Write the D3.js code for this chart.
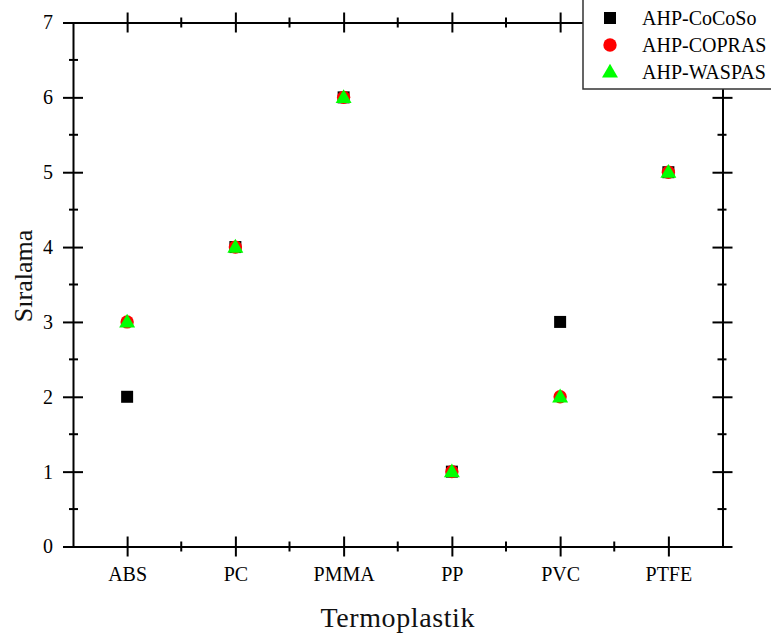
<!DOCTYPE html>
<html>
<head>
  <meta charset="utf-8">
  <style>
    body { margin: 0; background: #fff; }
    svg text { font-family: 'Liberation Serif', serif; }
  </style>
  <script src="https://cdn.jsdelivr.net/npm/d3@7/dist/d3.min.js"></script>
</head>
<body>
  <svg id="chart" width="771" height="637"></svg>

  <script>
    var categories = ['ABS', 'PC', 'PMMA', 'PP', 'PVC', 'PTFE'];
    var cocoso = [2, 4, 6, 1, 3, 5];
    var copras = [3, 4, 6, 1, 2, 5];
    var waspas = [3, 4, 6, 1, 2, 5];
    var yTicks = [0, 1, 2, 3, 4, 5, 6, 7];

    var svg = d3.select('#chart'),
      margin = { top: 22.5, right: 48.5, bottom: 90.5, left: 73 },
      width = +svg.attr('width') - margin.left - margin.right,
      height = +svg.attr('height') - margin.top - margin.bottom,
      g = svg.append('g').attr('transform', 'translate(' + margin.left + ',' + margin.top + ')');

    var x = d3.scalePoint()
      .domain(categories)
      .range([0, width])
      .padding(0.5);

    var y = d3.scaleLinear()
      .domain([0, 7])
      .range([height, 0]);

    var step = x.step();
    var xMinor = categories.slice(0, -1).map(c => x(c) + step / 2);
    var yMinor = d3.range(0.5, 7, 1);

    // crossing ticks helper
    function cross(sel, attr, a, b) {
      sel.selectAll('.tick line').attr(attr + '1', a).attr(attr + '2', b);
    }

    function styleAxis(ax) {
      ax.select('.domain').attr('stroke-width', 2);
      ax.selectAll('.tick line').attr('stroke-width', 2);
      ax.selectAll('text').attr('font-size', 20).attr('fill', '#000');
    }

    // bottom
    var xb = g.append('g')
      .attr('transform', 'translate(0,' + height + ')')
      .call(d3.axisBottom(x).tickSize(0).tickSizeOuter(0).tickPadding(20));
    cross(xb, 'y', -10, 10);
    styleAxis(xb);
    xb.selectAll('.minor').data(xMinor).enter().append('line')
      .attr('x1', d => d).attr('x2', d => d).attr('y1', -5).attr('y2', 5)
      .attr('stroke', '#000').attr('stroke-width', 2);

    // top
    var xt = g.append('g')
      .call(d3.axisTop(x).tickSize(0).tickSizeOuter(0).tickFormat(''));
    cross(xt, 'y', -10, 10);
    styleAxis(xt);
    xt.selectAll('.minor').data(xMinor).enter().append('line')
      .attr('x1', d => d).attr('x2', d => d).attr('y1', -5).attr('y2', 5)
      .attr('stroke', '#000').attr('stroke-width', 2);

    // left
    var yl = g.append('g')
      .call(d3.axisLeft(y).tickValues(yTicks).tickSize(0).tickSizeOuter(0).tickPadding(20).tickFormat(d3.format('d')));
    cross(yl, 'x', -10, 10);
    styleAxis(yl);
    yl.selectAll('.minor').data(yMinor).enter().append('line')
      .attr('y1', d => y(d)).attr('y2', d => y(d)).attr('x1', -4).attr('x2', 5)
      .attr('stroke', '#000').attr('stroke-width', 2);

    // right
    var yr = g.append('g')
      .attr('transform', 'translate(' + width + ',0)')
      .call(d3.axisRight(y).tickValues(yTicks).tickSize(0).tickSizeOuter(0).tickFormat(''));
    cross(yr, 'x', -10, 10);
    styleAxis(yr);
    yr.selectAll('.minor').data(yMinor).enter().append('line')
      .attr('y1', d => y(d)).attr('y2', d => y(d)).attr('x1', -5).attr('x2', 4)
      .attr('stroke', '#000').attr('stroke-width', 2);

    // axis titles
    svg.append('text')
      .attr('x', margin.left + width / 2)
      .attr('y', 627)
      .attr('text-anchor', 'middle')
      .attr('font-size', 28)
      .attr('letter-spacing', 0.6)
      .attr('fill', '#111')
      .text('Termoplastik');

    svg.append('text')
      .attr('transform', 'translate(32,276) rotate(-90)')
      .attr('text-anchor', 'middle')
      .attr('font-size', 26)
      .attr('fill', '#111')
      .text('Sıralama');

    var sq = d3.symbol().type(d3.symbolSquare).size(144);
    var ci = d3.symbol().type(d3.symbolCircle).size(140);
    var tr = d3.symbol().type(d3.symbolTriangle).size(110);

    g.selectAll('.cocoso').data(cocoso).enter().append('path')
      .attr('d', sq)
      .attr('transform', (d, i) => 'translate(' + x(categories[i]) + ',' + y(d) + ')')
      .attr('fill', '#000');

    g.selectAll('.copras').data(copras).enter().append('path')
      .attr('d', ci)
      .attr('transform', (d, i) => 'translate(' + x(categories[i]) + ',' + y(d) + ')')
      .attr('fill', '#ff0000');

    g.selectAll('.waspas').data(waspas).enter().append('path')
      .attr('d', tr)
      .attr('transform', (d, i) => 'translate(' + x(categories[i]) + ',' + (y(d) + 1) + ')')
      .attr('fill', '#00ff00');

    // legend
    var legend = svg.append('g');
    legend.append('rect')
      .attr('x', 583).attr('y', -2).attr('width', 200).attr('height', 91)
      .attr('fill', '#fff').attr('stroke', '#333').attr('stroke-width', 1.5);

    var items = [
      { name: 'AHP-CoCoSo', sym: sq, color: '#000' },
      { name: 'AHP-COPRAS', sym: ci, color: '#ff0000' },
      { name: 'AHP-WASPAS', sym: tr, color: '#00ff00' }
    ];
    items.forEach((it, i) => {
      var cy = 18 + i * 27;
      legend.append('path')
        .attr('d', it.sym)
        .attr('transform', 'translate(610,' + (cy + (i == 2 ? 1 : 0)) + ')')
        .attr('fill', it.color);
      legend.append('text')
        .attr('x', 642).attr('y', cy + 7)
        .attr('font-size', 20)
        .text(it.name);
    });
  </script>
</body>
</html>
